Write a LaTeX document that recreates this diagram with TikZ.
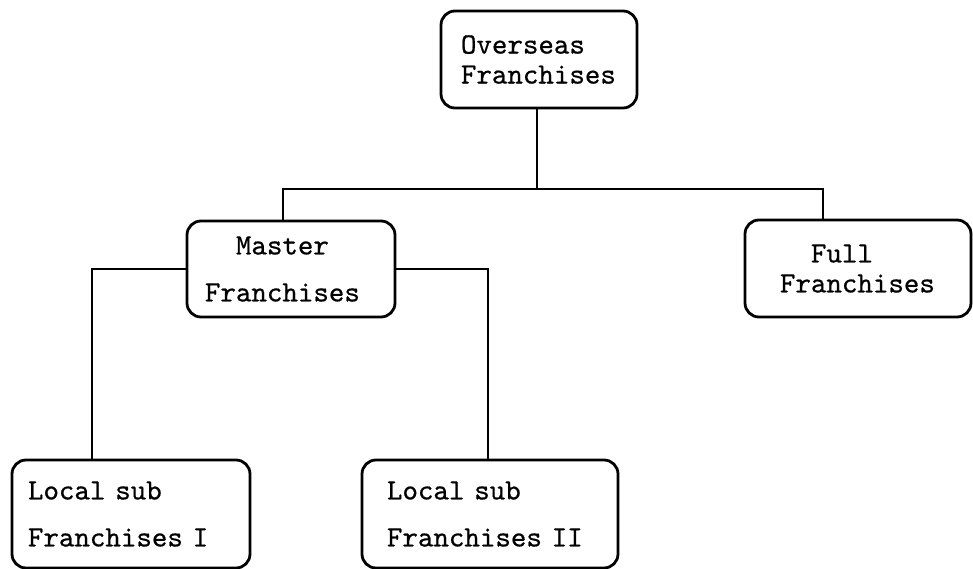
\documentclass[tikz,border=0pt]{standalone}
\usepackage{fontspec}
\newfontfamily\chartfont{lmmono10-regular.otf}[FakeBold=0.6]
\tikzset{
  % boxes of the chart
  orgbox/.style = {draw, line width=2.8pt, rounded corners=14pt, align=left,
    font=\chartfont\fontsize{29.5}{30}\selectfont},
  tallbox/.style = {orgbox, font=\chartfont\fontsize{29.5}{47}\selectfont},
  % connecting lines
  link/.style = {line width=2.8pt}
}
\begin{document}
\begin{tikzpicture}[x=1pt,y=-1pt]
    \useasboundingbox (0,0) rectangle (973,569);
    % Top level
    \node[orgbox, minimum width=196pt, minimum height=97pt,
      text width=156pt, inner xsep=20pt] (overseas) at (539,59.5)
      {Overseas\\Franchises};
    % Second level
    \node[tallbox, minimum width=208pt, minimum height=96pt,
      text width=172pt, inner xsep=18pt] (master) at (291,269)
      {\phantom{xx}Master\\Franchises};
    \node[orgbox, minimum width=226pt, minimum height=97pt,
      text width=156pt, inner xsep=35pt] (full) at (858,268.5)
      {\phantom{xx}Full\\Franchises};
    % Third level
    \node[tallbox, minimum width=238pt, minimum height=108pt,
      text width=206pt, inner xsep=16pt] (localone) at (131,514)
      {Local sub\\Franchises I};
    \node[tallbox, minimum width=256pt, minimum height=108pt,
      text width=206pt, inner xsep=25pt] (localtwo) at (490,514)
      {Local sub\\Franchises II};
    % Lines between the boxes
    \coordinate (bus) at (537,189);
    \draw[link] (overseas.south -| bus) -- (bus);
    \draw[link] ([xshift=-8pt]master.north) |- (bus) -| ([xshift=-35pt]full.north);
    \draw[link] (master.west) -| ([xshift=-39pt]localone.north);
    \draw[link] (master.east) -| ([xshift=-2pt]localtwo.north);
\end{tikzpicture}
\end{document}
